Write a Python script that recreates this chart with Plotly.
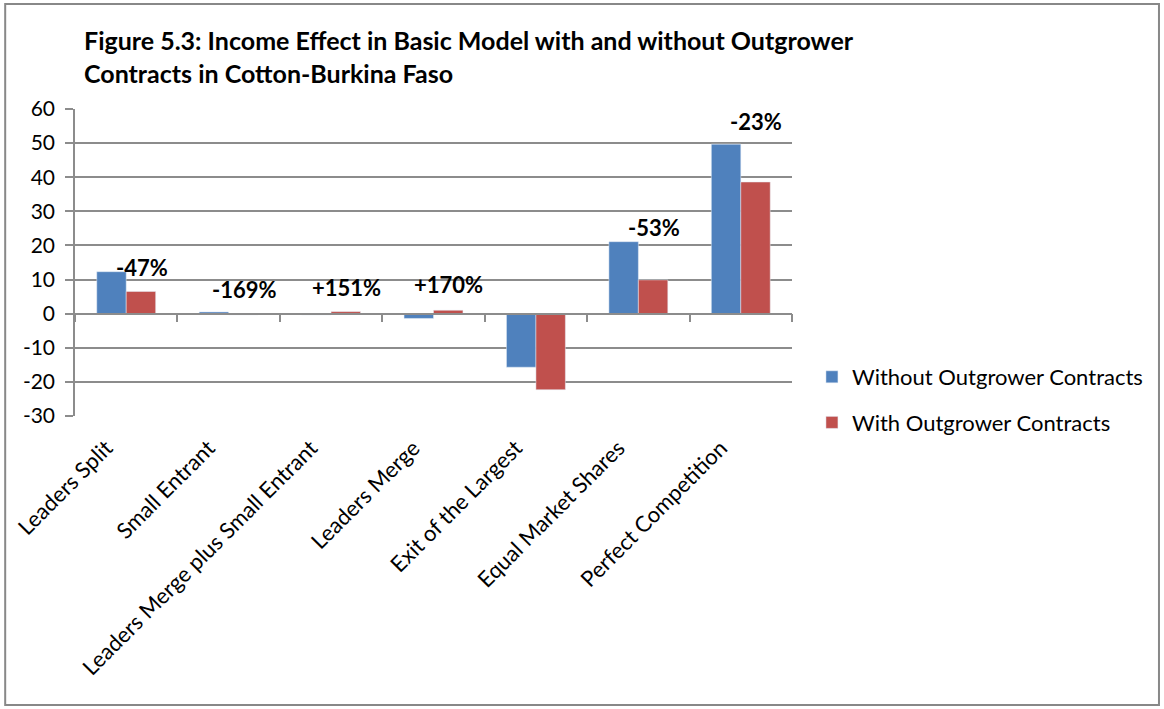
import plotly.graph_objects as go

categories = ["Leaders Split", "Small Entrant", "Leaders Merge plus Small Entrant",
              "Leaders Merge", "Exit of the Largest", "Equal Market Shares",
              "Perfect Competition"]
without_contracts = [12.3, 0.5, -0.4, -1.4, -15.7, 21.1, 49.7]
with_contracts = [6.5, -0.35, 0.6, 1.0, -22.3, 9.9, 38.6]
change_labels = ["-47%", "-169%", "+151%", "+170%", "-42%", "-53%", "-23%"]
y_ticks = [60, 50, 40, 30, 20, 10, 0, -10, -20, -30]
y_tick_text = ["60", "50", "40", "30", "20", "10", "0", "-10", "-20", "-30"]

BLUE = "#4F81BD"
RED = "#C0504D"
GRID = "#8C8C8C"
FONT = "Lato"

# plot area in pixels
W, H = 1164, 709
L, R, T, B = 73, 792, 109, 416
PW, PH = R - L, B - T

def px(x):
    return (x - L) / PW

def py(y):
    return (B - y) / PH

fig = go.Figure()
fig.add_trace(go.Bar(x=categories, y=without_contracts, name="Without Outgrower Contracts",
                     marker_color=BLUE, legendgroup="a"))
fig.add_trace(go.Bar(x=categories, y=with_contracts, name="With Outgrower Contracts",
                     marker_color=RED, legendgroup="b"))
# invisible trace for the zero-line category axis (ticks at boundaries)
fig.add_trace(go.Scatter(x=categories, y=[None] * len(categories), xaxis="x2",
                         showlegend=False, hoverinfo="skip"))

# label placement (annotation offsets, in data units / category fractions)
label_y = [13.5, 7.0, 7.6, 8.5, -33.4, 25.2, 56.3]
annotations = []
for i, (lab, ly) in enumerate(zip(change_labels, label_y)):
    annotations.append(dict(x=i + 0.15, y=ly, xref="x", yref="y", text=lab, showarrow=False,
                            font=dict(family=FONT, size=22, color="black", weight="bold"),
                            xanchor="center", yanchor="middle"))

annotations.append(dict(x=px(80), y=py(40), xref="paper", yref="paper",
                        text="<b>Figure 5.3: Income Effect in Basic Model with and without Outgrower</b>",
                        showarrow=False, xanchor="left", yanchor="middle",
                        font=dict(family=FONT, size=25, color="black")))
annotations.append(dict(x=px(80), y=py(73), xref="paper", yref="paper",
                        text="<b>Contracts in Cotton-Burkina Faso</b>",
                        showarrow=False, xanchor="left", yanchor="middle",
                        font=dict(family=FONT, size=25, color="black")))

fig.update_layout(
    width=W, height=H,
    margin=dict(l=L, r=W - R, t=T, b=H - B, pad=0),
    paper_bgcolor="white", plot_bgcolor="white",
    barmode="group", bargap=0.425, bargroupgap=0,
    font=dict(family=FONT, size=22, color="black"),
    xaxis=dict(type="category", categoryarray=categories, categoryorder="array",
               showline=False, ticks="", tickangle=-45, showgrid=False,
               tickfont=dict(family=FONT, size=22), range=[-0.5, 6.5],
               ticklabelshift=-20, ticklabelstandoff=14),
    xaxis2=dict(type="category", categoryarray=categories, categoryorder="array",
                overlaying="x", anchor="free", position=1 / 3, range=[-0.5, 6.5],
                showticklabels=False, ticks="outside", tickson="boundaries",
                ticklen=8, tickcolor=GRID, tickwidth=1.5, showline=True,
                linecolor=GRID, linewidth=1.5, showgrid=False),
    yaxis=dict(range=[-30, 60], tickvals=y_ticks, ticktext=y_tick_text,
               showgrid=True, gridcolor=GRID, gridwidth=1.5,
               zeroline=False, showline=True, linecolor=GRID, linewidth=1.5,
               ticks="outside", ticklen=8, tickcolor=GRID, tickwidth=1.5,
               tickfont=dict(family=FONT, size=21), ticklabelstandoff=6),
    legend=dict(x=px(812), y=py(356), xanchor="left", yanchor="top",
                font=dict(family=FONT, size=22), traceorder="grouped",
                tracegroupgap=14, bgcolor="rgba(0,0,0,0)", itemclick=False),
    annotations=annotations,
    shapes=[dict(type="rect", xref="paper", yref="paper",
                 x0=px(3), x1=px(1160), y0=py(705), y1=py(4),
                 line=dict(color="#888888", width=2), fillcolor="rgba(0,0,0,0)", layer="below")],
)

fig.write_html("out.html")
